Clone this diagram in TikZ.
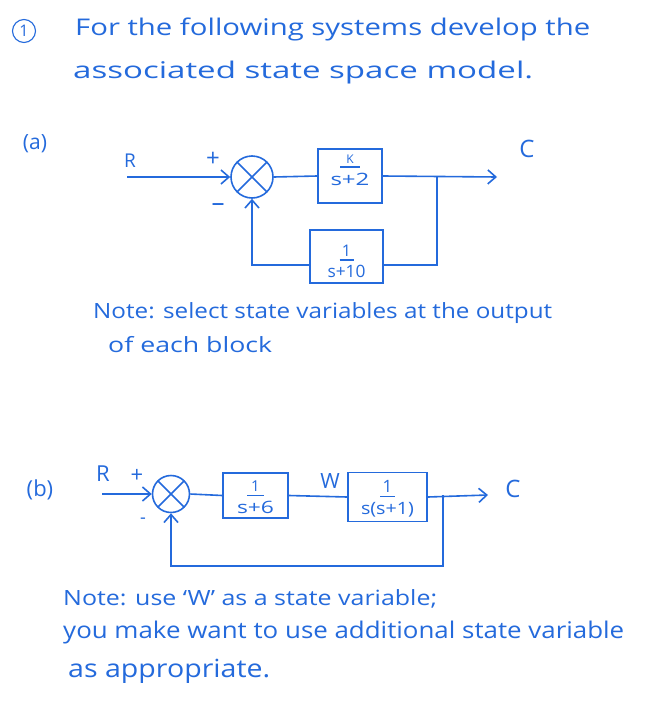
\documentclass[tikz,border=0pt]{standalone}
\usepackage{fontspec}
\usepackage{graphicx}
\setmainfont{Open Sans}
\usetikzlibrary{arrows.meta}
\definecolor{ink}{RGB}{36,106,220}
\newcommand{\hw}[2]{\resizebox{#1}{\height}{#2}}
\newcommand{\fs}[1]{\fontsize{#1}{#1}\selectfont}
% numerator, denominator, denominator width, bar width
\newcommand{\hfr}[4]{\vbox{\offinterlineskip\halign{\hfil##\hfil\cr #1\cr\noalign{\kern3pt}\rule{#4}{1.4pt}\cr\noalign{\kern5pt}\hw{#3}{#2}\cr}}}
\begin{document}
\begin{tikzpicture}[x=1pt,y=-1pt,
  hand/.style={anchor=base west, text=ink, inner sep=0pt},
  lab/.style={text=ink, inner sep=0pt},
  blk/.style={draw=ink, line width=1.6pt, rectangle, inner sep=0pt},
  fracn/.style={text=ink, inner sep=0pt, font=\fs{17}},
  sumj/.style={draw=ink, circle, line width=1.6pt, inner sep=0pt, minimum size=#1,
    path picture={\draw[ink,line width=1.6pt]
      (path picture bounding box.north west) -- (path picture bounding box.south east)
      (path picture bounding box.north east) -- (path picture bounding box.south west);}},
  wire/.style={draw=ink, line width=1.6pt},
  arr/.style={wire, -{Straight Barb[length=8pt,width=14pt,line width=1.6pt]}}]
\useasboundingbox[fill=white] (0,0) rectangle (647,728);

% header
\node[draw=ink, circle, line width=1.1pt, minimum size=23pt, inner sep=0pt, text=ink] (num) at (24,31) {\fs{16}1};
\node[hand] (t1) at (75,35) {\hw{515pt}{\fs{23}For the following systems develop the}};
\node[hand] (t2) at (73,78) {\hw{460pt}{\fs{23}associated state space model.}};

% (a)
\node[lab] (pa) at (35,144) {\fs{21}(a)};
\node[lab] (Ra) at (130,161) {\fs{19}R};
\node[lab] (pla) at (213,159) {\fs{24}+};
\node[lab] (mia) at (218,208) {\fs{26}\textendash};
\node[lab] (Ca) at (527,149) {\fs{24}C};
\node[sumj=42pt] (sa) at (252,177) {};
\node[blk, minimum width=64pt, minimum height=54pt] (ga) at (350,176) {};
\node[fracn] (gat) at ([yshift=6pt]ga.center) {\hfr{\fs{12}K}{s+2}{39pt}{20pt}};
\node[blk, minimum width=73pt, minimum height=53pt] (ha) at (346.5,256.5) {};
\node[fracn] (hat) at ([yshift=-5pt]ha.center) {\hfr{\fs{16}1}{s+10}{38pt}{14pt}};
\coordinate (ra) at (127,177);
\coordinate (ca) at (497,177);
\coordinate (ba) at (437,177);
\draw[arr] (ra) -- (sa.west);
\draw[wire] (sa.east) -- (ga.west);
\draw[arr] (ga.east) -- (ca);
\draw[wire] (ba) |- ([yshift=-8.5pt]ha.east);
\draw[arr] ([yshift=-8.5pt]ha.west) -| (sa.south);

\node[hand] (na1) at (93,318) {\hw{459pt}{\fs{21}Note: select state variables at the output}};
\node[hand] (na2) at (108,352) {\hw{164pt}{\fs{21}of each block}};

% (b)
\node[lab] (pb) at (40,490) {\fs{22}(b)};
\node[lab] (Rb) at (103,474) {\fs{22}R};
\node[lab] (plb) at (137,476) {\fs{22}+};
\node[lab] (mib) at (143,521) {\fs{18}-};
\node[lab] (Wb) at (330,481) {\fs{21}W};
\node[lab] (Cb) at (513,489) {\fs{24}C};
\node[sumj=37pt] (sb) at (171,494) {};
\node[blk, minimum width=65pt, minimum height=45pt] (gb) at (255.5,495.5) {};
\node[fracn] (gbt) at ([yshift=-2pt]gb.center) {\hfr{\fs{15}1}{s+6}{37pt}{17pt}};
\node[blk, minimum width=79pt, minimum height=49pt] (hb) at (387.5,497) {};
\node[fracn] (hbt) at ([yshift=-2pt]hb.center) {\hfr{\fs{17}1}{s(s+1)}{53pt}{15pt}};
\coordinate (rb) at (102,494);
\coordinate (cb) at (488,495);
\coordinate (bb) at (443,495);
\coordinate (db) at (443,566);
\draw[arr] (rb) -- (sb.west);
\draw[wire] (sb.east) -- (gb.west);
\draw[wire] (gb.east) -- (hb.west);
\draw[arr] (hb.east) -- (cb);
\draw[arr] (bb) -- (db) -| (sb.south);

\node[hand] (nb1) at (63,605) {\hw{374pt}{\fs{21}Note: use `W' as a state variable;}};
\node[hand] (nb2) at (63,638) {\hw{561pt}{\fs{23}you make want to use additional state variable}};
\node[hand] (nb3) at (68,677) {\hw{202pt}{\fs{25}as appropriate.}};
\end{tikzpicture}
\end{document}
